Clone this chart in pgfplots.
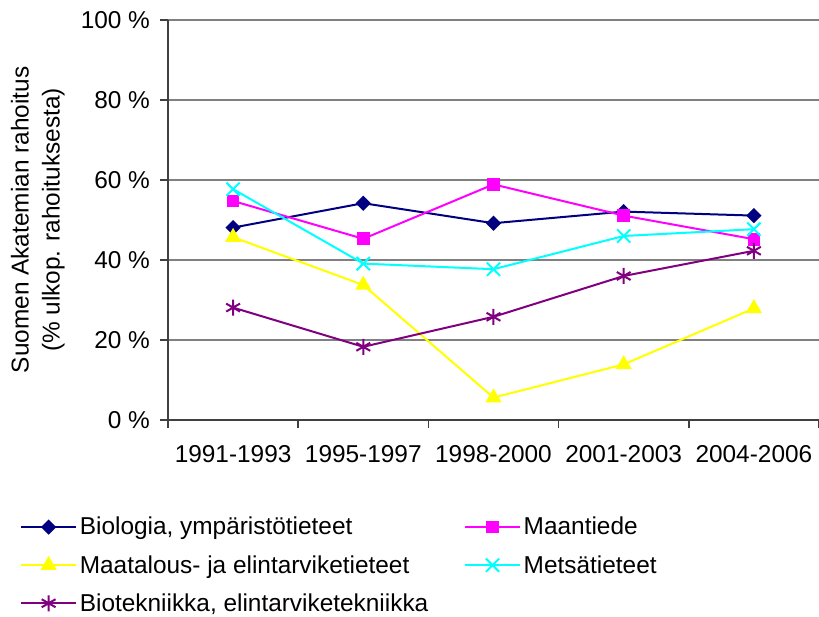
\documentclass[border=0pt]{standalone}
\usepackage{fontspec}
\setmainfont{Liberation Sans}
\usepackage{pgfplots}
\pgfplotsset{compat=1.18}
\definecolor{cnavy}{RGB}{0,0,128}
\definecolor{cmag}{RGB}{255,0,255}
\definecolor{cyel}{RGB}{255,255,0}
\definecolor{ccyan}{RGB}{0,255,255}
\definecolor{cpurp}{RGB}{128,0,128}
\newcommand{\fs}{\fontsize{18.3}{23.25}\selectfont}
\begin{document}
\begin{tikzpicture}
\begin{axis}[
  scale only axis, width=488.25pt, height=300pt,
  at={(0,0)}, anchor=south west,
  xmin=0.5, xmax=5.5, ymin=0, ymax=100,
  axis lines*=left,
  axis line style={draw=black!75, line width=1.1pt},
  xtick={1,...,5},
  xticklabels={1991-1993,1995-1997,1998-2000,2001-2003,2004-2006},
  minor xtick={0.5,1.5,...,5.5},
  major x tick style={draw=none},
  minor x tick style={draw=black!75, line width=1.1pt},
  minor tick length=6pt,
  major tick length=6pt,
  tick align=outside,
  ytick={0,20,...,100},
  yticklabels={0~\%,20~\%,40~\%,60~\%,80~\%,100~\%},
  major y tick style={draw=black!75, line width=1.1pt},
  ymajorgrids, grid style={draw=gray, line width=1.1pt},
  tick label style={font=\fs},
  xticklabel style={yshift=-9.5pt},
  yticklabel style={xshift=-4pt},
  /pgf/number format/assume math mode=true,
  ylabel={Suomen Akatemian rahoitus\\(\% ulkop. rahoituksesta)},
  ylabel style={align=center, font=\fs, at={(axis description cs:-0.2,0.5)}, anchor=center},
  legend columns=2,
  legend cell align=left,
  legend style={at={(axis description cs:-0.2275,-0.2358)}, anchor=north west, draw=none, fill=none, font=\fs, inner sep=0pt, row sep=9.8pt, /tikz/column 2/.style={column sep=39pt}},
  legend image code/.code={\draw[mark repeat=2,mark phase=2,#1] plot coordinates {(0pt,0pt)(20.6pt,0pt)(41.25pt,0pt)};},
  clip=false,
]
\addplot[color=cnavy, line width=1.5pt, mark=square*, mark size=3.3pt, mark options={rotate=45, solid}]
  coordinates {(1,48.1)(2,54.2)(3,49.2)(4,52.1)(5,51.1)};
\addlegendentry{Biologia, ympäristötieteet}
\addplot[color=cmag, line width=1.5pt, mark=square*, mark size=4pt, mark options={solid}]
  coordinates {(1,54.75)(2,45.3)(3,58.9)(4,51.1)(5,45.2)};
\addlegendentry{Maantiede}
\addplot[color=cyel, line width=1.5pt, mark=triangle*, mark size=5.5pt, mark options={solid}]
  coordinates {(1,45.7)(2,33.75)(3,5.6)(4,13.9)(5,27.9)};
\addlegendentry{Maatalous- ja elintarviketieteet}
\addplot[color=ccyan, line width=1.5pt, mark=x, mark size=7pt, mark options={solid}]
  coordinates {(1,57.7)(2,39.1)(3,37.7)(4,46)(5,47.7)};
\addlegendentry{Metsätieteet}
\addplot[color=cpurp, line width=1.5pt, mark=asterisk, mark size=6pt, mark options={solid}]
  coordinates {(1,28.1)(2,18.3)(3,25.8)(4,36)(5,42.3)};
\addlegendentry{\rlap{Biotekniikka, elintarviketekniikka}}
\end{axis}
\pgfresetboundingbox
\useasboundingbox (-126pt,-147.75pt) rectangle (488.25pt,315pt);
\end{tikzpicture}
\end{document}
